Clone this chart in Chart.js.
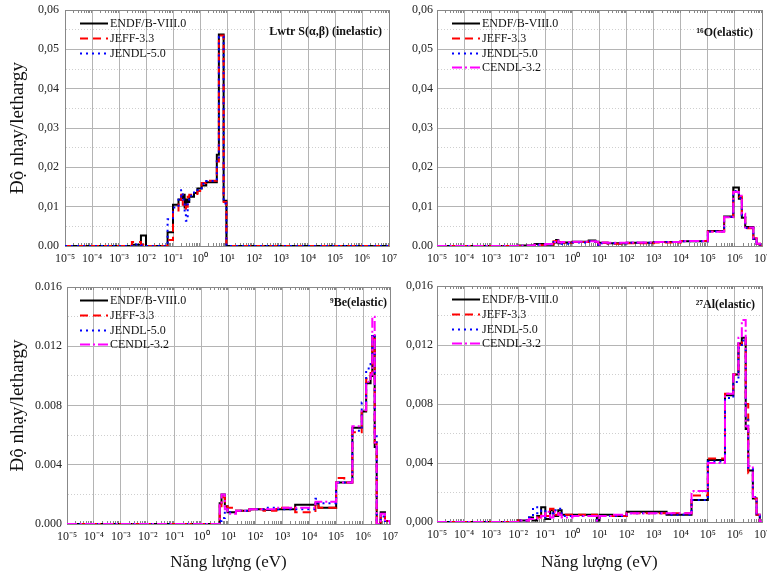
<!DOCTYPE html>
<html>
<head>
<meta charset="utf-8">
<script src="https://cdn.jsdelivr.net/npm/chart.js@4.4.0/dist/chart.umd.min.js"></script>
<style>
  body { margin: 0; background: #fff; }
  #wrap { position: relative; width: 767px; height: 577px; overflow: hidden; }
  #wrap canvas { position: absolute; }
</style>
</head>
<body>
<div id="wrap">
  <canvas id="chartA" width="400" height="270" style="left:0;top:0"></canvas>
  <canvas id="chartB" width="387" height="270" style="left:380px;top:0"></canvas>
  <canvas id="chartC" width="400" height="300" style="left:0;top:277px"></canvas>
  <canvas id="chartD" width="387" height="301" style="left:380px;top:276px"></canvas>
</div>
<script>
const libraries = ["ENDF/B-VIII.0", "JEFF-3.3", "JENDL-5.0", "CENDL-3.2"];

const xTickValues = [1e-5, 1e-4, 1e-3, 1e-2, 1e-1, 1, 1e1, 1e2, 1e3, 1e4, 1e5, 1e6, 1e7];
const xTickLabels = ["10⁻⁵", "10⁻⁴", "10⁻³", "10⁻²", "10⁻¹", "10⁰", "10¹", "10²", "10³", "10⁴", "10⁵", "10⁶", "10⁷"];

const yLabelsTop = ["0.00", "0,01", "0,02", "0,03", "0,04", "0,05", "0,06"];
const yLabelsBe = ["0.000", "0.004", "0.008", "0.012", "0.016"];
const yLabelsAl = ["0,000", "0,004", "0,008", "0,012", "0,016"];

// Lwtr S(a,b) inelastic - group lower bounds (eV), one value per group
const energyLwtr = [1e-5, 3e-3, 6.5e-3, 1e-2, 6.3e-2, 0.1, 0.16, 0.2, 0.23, 0.27, 0.3, 0.35, 0.4, 0.6, 0.8, 1.15, 1.7, 4.2, 5.0, 7.5, 9.5, 1e7];
const endfLwtr = [0, 0.0003, 0.0027, 0, 0.0035, 0.0105, 0.0118, 0.0122, 0.0130, 0.0098, 0.0118, 0.0112, 0.0125, 0.0135, 0.0146, 0.0154, 0.0162, 0.0232, 0.0538, 0.0115, 0, 0];
const jeffLwtr = [0, 0.0010, 0.0003, 0, 0.0015, 0.0088, 0.0112, 0.0130, 0.0105, 0.0092, 0.0100, 0.0125, 0.0130, 0.0132, 0.0140, 0.0160, 0.0166, 0.0215, 0.0535, 0.0112, 0, 0];
const jendlLwtr = [0, 0.0004, 0.0002, 0, 0.0068, 0.0098, 0.0125, 0.0142, 0.0118, 0.0085, 0.0064, 0.0118, 0.0128, 0.0136, 0.0142, 0.0158, 0.0165, 0.0222, 0.0532, 0.0108, 0, 0];

// 16O elastic
const energyO16 = [1e-5, 1e-2, 4e-2, 0.1, 0.2, 0.25, 0.3, 0.4, 1, 4, 7, 9, 10, 20, 100, 1e3, 1e4, 1e5, 4e5, 8.7e5, 1.4e6, 1.8e6, 2.4e6, 4.8e6, 6.3e6, 8.5e6, 1e7];
const endfO16 = [0, 0.0001, 0.0005, 0.0003, 0.0009, 0.0015, 0.0007, 0.0009, 0.0011, 0.0014, 0.0011, 0, 0.0008, 0.0007, 0.0008, 0.0010, 0.0012, 0.0038, 0.0075, 0.0149, 0.0120, 0.0072, 0.0048, 0.0018, 0.0005, 0, 0];
const jeffO16 = [0, 0, 0.0002, 0.0004, 0.0012, 0.0016, 0.0010, 0.0008, 0.0010, 0.0012, 0.0010, 0.0002, 0.0008, 0.0006, 0.0007, 0.0009, 0.0013, 0.0037, 0.0074, 0.0138, 0.0125, 0.0080, 0.0045, 0.0020, 0.0006, 0, 0];
const jendlO16 = [0, 0, 0.0003, 0.0004, 0.0010, 0.0013, 0.0008, 0.0006, 0.0009, 0.0012, 0.0010, 0.0002, 0.0007, 0.0007, 0.0008, 0.0010, 0.0012, 0.0037, 0.0074, 0.0140, 0.0122, 0.0078, 0.0046, 0.0019, 0.0005, 0, 0];
const cendlO16 = [0, 0.0001, 0.0003, 0.0005, 0.0010, 0.0014, 0.0009, 0.0010, 0.0011, 0.0012, 0.0011, 0.0002, 0.0009, 0.0008, 0.0009, 0.0010, 0.0013, 0.0036, 0.0073, 0.0137, 0.0128, 0.0082, 0.0047, 0.0020, 0.0006, 0, 0];

// 9Be elastic
const energyBe9 = [1e-5, 4.7, 5.5, 7.3, 9.2, 19, 60, 200, 600, 3e3, 1.7e4, 2.2e4, 1e5, 2e5, 4e5, 8.9e5, 1.3e6, 1.9e6, 2.2e6, 2.7e6, 3.2e6, 4.5e6, 6.5e6, 1e7];
const endfBe9 = [0, 0.0014, 0.0020, 0.0012, 0.0008, 0.0009, 0.0010, 0.00095, 0.0010, 0.0013, 0.0014, 0.0011, 0.0028, 0.0028, 0.0065, 0.0076, 0.0095, 0.0100, 0.0127, 0.0052, 0, 0.0008, 0.0002, 0];
const jeffBe9 = [0, 0.0012, 0.0018, 0.0012, 0.0011, 0.0009, 0.0010, 0.0009, 0.0011, 0.0008, 0.0014, 0.0011, 0.0031, 0.0028, 0.0062, 0.0075, 0.0098, 0.0102, 0.0125, 0.0055, 0, 0.0006, 0.0002, 0];
const jendlBe9 = [0, 0.0002, 0.0004, 0.0010, 0.0008, 0.0009, 0.0010, 0.0011, 0.0010, 0.0010, 0.0017, 0.0014, 0.0028, 0.0028, 0.0063, 0.0082, 0.0105, 0.0108, 0.0128, 0.0060, 0, 0.0005, 0.0002, 0];
const cendlBe9 = [0, 0.0013, 0.0020, 0.0010, 0.0007, 0.0009, 0.0010, 0.0010, 0.0011, 0.0011, 0.0015, 0.0015, 0.0028, 0.0028, 0.0066, 0.0077, 0.0096, 0.0101, 0.0140, 0.0055, 0, 0.0007, 0.0002, 0];

// 27Al elastic
const energyAl27 = [1e-5, 1e-2, 2.5e-2, 3.5e-2, 5e-2, 7e-2, 0.1, 0.15, 0.2, 0.3, 0.4, 1, 8, 10, 30, 100, 3e3, 2.5e4, 1e5, 4.3e5, 8.7e5, 1.35e6, 1.8e6, 2.5e6, 3.1e6, 4.6e6, 6.3e6, 8.3e6, 1e7];
const endfAl27 = [0, 0.0001, 0.0003, 0.0001, 0.0004, 0.0010, 0.0002, 0.0008, 0.0004, 0.0008, 0.0005, 0.0005, 0.0001, 0.0005, 0.0004, 0.0007, 0.0005, 0.0015, 0.0042, 0.0086, 0.0100, 0.0121, 0.0125, 0.0063, 0.0035, 0.0016, 0.0005, 0, 0];
const jeffAl27 = [0, 0.0001, 0.0002, 0.0002, 0.0003, 0.0006, 0.0004, 0.0009, 0.0005, 0.0006, 0.0005, 0.0005, 0.0002, 0.0004, 0.0004, 0.0006, 0.0006, 0.0018, 0.0043, 0.0087, 0.0100, 0.0120, 0.0124, 0.0080, 0.0033, 0.0016, 0.0005, 0, 0];
const jendlAl27 = [0, 0.0001, 0.0003, 0.0010, 0.0006, 0.0008, 0.0003, 0.0006, 0.0008, 0.0009, 0.0004, 0.0004, 0.0001, 0.0004, 0.0004, 0.0006, 0.0005, 0.0015, 0.0041, 0.0084, 0.0095, 0.0118, 0.0123, 0.0070, 0.0036, 0.0017, 0.0005, 0, 0];
const cendlAl27 = [0, 0.0001, 0.0002, 0.0002, 0.0003, 0.0004, 0.0007, 0.0003, 0.0007, 0.0005, 0.0003, 0.0004, 0.0001, 0.0004, 0.0005, 0.0006, 0.0006, 0.0021, 0.0040, 0.0087, 0.0100, 0.0125, 0.0137, 0.0065, 0.0038, 0.0017, 0.0005, 0, 0];

const lineStyles = [
  { color: "#000000", dash: [], width: 2 },
  { color: "#ff0000", dash: [8, 5], width: 2 },
  { color: "#0000ff", dash: [2, 4], width: 2 },
  { color: "#ff00ff", dash: [10, 3, 2, 3], width: 2 }
];

const serif = '"Liberation Serif", "Times New Roman", serif';
Chart.defaults.font.family = serif;
Chart.defaults.color = "#111";

const frameAndMinor = {
  id: "frameAndMinor",
  beforeDatasetsDraw(chart) {
    const { ctx, chartArea: a, scales } = chart;
    ctx.save();
    ctx.strokeStyle = "#888";
    ctx.lineWidth = 1;
    ctx.beginPath();
    for (let k = -5; k < 7; k++) {
      for (let m = 2; m < 10; m++) {
        const px = Math.round(scales.x.getPixelForValue(m * Math.pow(10, k))) + 0.5;
        ctx.moveTo(px, a.bottom);
        ctx.lineTo(px, a.bottom - 3);
        ctx.moveTo(px, a.top);
        ctx.lineTo(px, a.top + 3);
      }
    }
    ctx.stroke();
    ctx.strokeRect(Math.round(a.left) + 0.5, Math.round(a.top) + 0.5, Math.round(a.width), Math.round(a.height));
    ctx.restore();
  }
};

const insideLegend = {
  id: "insideLegend",
  afterDraw(chart, args, opts) {
    const { ctx, chartArea } = chart;
    ctx.save();
    ctx.font = "12px " + serif;
    ctx.textBaseline = "middle";
    chart.data.datasets.forEach((ds, i) => {
      const x = chartArea.left + opts.left;
      const y = Math.round(chartArea.top + opts.top + i * opts.gap) + 0.5;
      ctx.strokeStyle = ds.borderColor;
      ctx.lineWidth = ds.borderWidth;
      ctx.setLineDash(ds.borderDash);
      ctx.beginPath();
      ctx.moveTo(x, y);
      ctx.lineTo(x + 28, y);
      ctx.stroke();
      ctx.setLineDash([]);
      ctx.fillStyle = "#111";
      ctx.fillText(ds.label, x + 30, y);
    });
    ctx.restore();
  }
};

const panelLabel = {
  id: "panelLabel",
  afterDraw(chart, args, opts) {
    const { ctx, chartArea } = chart;
    ctx.save();
    ctx.font = "bold 12px " + serif;
    ctx.textAlign = "right";
    ctx.textBaseline = "middle";
    ctx.fillStyle = "#111";
    ctx.fillText(opts.text, chartArea.right - opts.right, chartArea.top + opts.top);
    ctx.restore();
  }
};

function makePanel(id, p) {
  const datasets = p.series.map((vals, i) => ({
    label: libraries[i],
    data: p.energies.map((e, j) => ({ x: e, y: vals[j] })),
    borderColor: lineStyles[i].color,
    borderDash: lineStyles[i].dash,
    borderWidth: lineStyles[i].width,
    stepped: true,
    pointRadius: 0,
    fill: false,
    order: 4 - i
  }));
  const minor = p.yMajor / 2;

  return new Chart(document.getElementById(id), {
    type: "line",
    data: { datasets },
    plugins: [frameAndMinor, insideLegend, panelLabel],
    options: {
      responsive: false,
      animation: false,
      events: [],
      layout: { padding: { top: 10, right: p.padRight, left: 0, bottom: 0 } },
      plugins: {
        legend: { display: false },
        tooltip: { enabled: false },
        insideLegend: { left: p.legendLeft, top: 13, gap: 14.8 },
        panelLabel: { text: p.label, right: p.labelRight, top: p.labelTop }
      },
      scales: {
        x: {
          type: "logarithmic",
          min: 1e-5,
          max: 1e7,
          afterBuildTicks: (s) => { s.ticks = xTickValues.map(v => ({ value: v })); },
          afterFit: (s) => { s.height = p.xHeight; s.paddingLeft = 0; s.paddingRight = 0; },
          ticks: {
            autoSkip: false,
            maxRotation: 0,
            padding: 6,
            font: { size: 12 },
            color: "#222",
            callback: (v, i) => xTickLabels[i]
          },
          grid: { color: "#b4b4b4", lineWidth: 1, drawTicks: false },
          border: { color: "#888" },
          title: {
            display: p.xTitle,
            text: "Năng lượng (eV)",
            font: { size: 17 },
            color: "#111",
            padding: { top: 0, bottom: 4 }
          }
        },
        y: {
          min: 0,
          max: p.yMax,
          afterFit: (s) => { s.width = p.yWidth; s.paddingTop = 0; s.paddingBottom = 0; },
          ticks: {
            stepSize: minor,
            autoSkip: false,
            padding: p.yPad,
            font: { size: 12 },
            color: "#222",
            callback: (v) => {
              const k = Math.round(v / minor);
              return k % 2 === 0 ? p.yLabels[k / 2] : "";
            }
          },
          grid: {
            drawTicks: false,
            lineWidth: 1,
            color: (c) => (c.tick && Math.round(c.tick.value / minor) % 2 ? "#cfcfcf" : "#b4b4b4")
          },
          border: {
            color: "#888",
            dash: (c) => (c.tick && Math.round(c.tick.value / minor) % 2 ? [1, 2] : [])
          },
          title: {
            display: p.yTitle,
            text: "Độ nhạy/lethargy",
            font: { size: 19 },
            color: "#111",
            padding: { top: 7, bottom: 0 }
          }
        }
      }
    }
  });
}

makePanel("chartA", {
  energies: energyLwtr, series: [endfLwtr, jeffLwtr, jendlLwtr],
  yMax: 0.06, yMajor: 0.01, yLabels: yLabelsTop,
  label: "Lwtr S(α,β) (inelastic)", labelRight: 7, labelTop: 22,
  padRight: 11, yWidth: 65, xHeight: 24, yPad: 6, legendLeft: 15,
  xTitle: false, yTitle: true
});

makePanel("chartB", {
  energies: energyO16, series: [endfO16, jeffO16, jendlO16, cendlO16],
  yMax: 0.06, yMajor: 0.01, yLabels: yLabelsTop,
  label: "¹⁶O(elastic)", labelRight: 9, labelTop: 23,
  padRight: 5, yWidth: 57, xHeight: 24, yPad: 4, legendLeft: 15,
  xTitle: false, yTitle: false
});

makePanel("chartC", {
  energies: energyBe9, series: [endfBe9, jeffBe9, jendlBe9, cendlBe9],
  yMax: 0.016, yMajor: 0.004, yLabels: yLabelsBe,
  label: "⁹Be(elastic)", labelRight: 3, labelTop: 16,
  padRight: 10, yWidth: 67, xHeight: 53, yPad: 5, legendLeft: 13,
  xTitle: true, yTitle: true
});

makePanel("chartD", {
  energies: energyAl27, series: [endfAl27, jeffAl27, jendlAl27, cendlAl27],
  yMax: 0.016, yMajor: 0.004, yLabels: yLabelsAl,
  label: "²⁷Al(elastic)", labelRight: 7, labelTop: 19,
  padRight: 5, yWidth: 57, xHeight: 55, yPad: 4, legendLeft: 15,
  xTitle: true, yTitle: false
});
</script>
</body>
</html>
